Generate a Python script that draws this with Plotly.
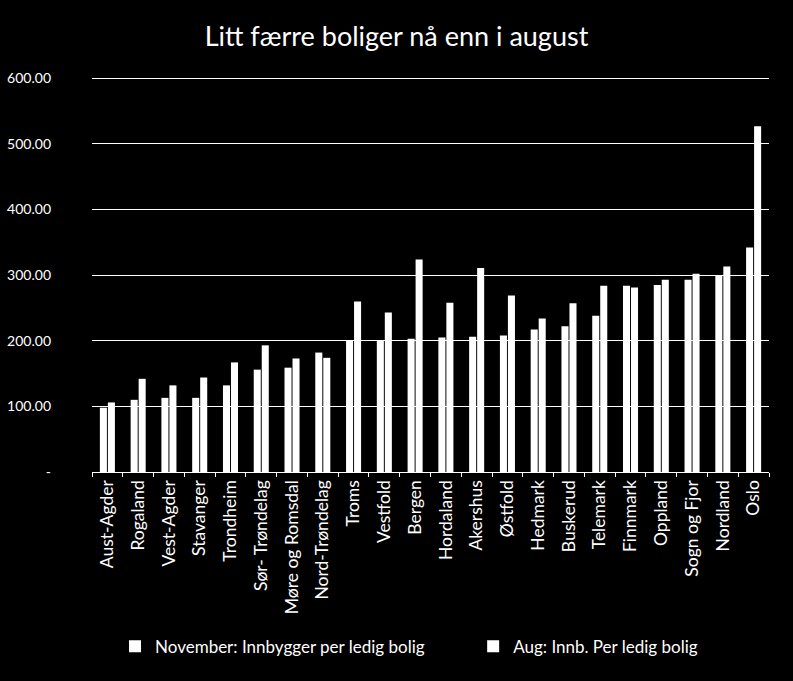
import plotly.graph_objects as go

categories = ["Aust-Agder", "Rogaland", "Vest-Agder", "Stavanger", "Trondheim",
              "Sør- Trøndelag", "Møre og Romsdal", "Nord-Trøndelag", "Troms", "Vestfold",
              "Bergen", "Hordaland", "Akershus", "Østfold", "Hedmark", "Buskerud",
              "Telemark", "Finnmark", "Oppland", "Sogn og Fjor", "Nordland", "Oslo"]
november = [98, 110, 113, 113, 132, 156, 159, 182, 201, 201, 203, 205, 206, 208,
            217, 222, 238, 284, 285, 293, 300, 342]
august = [106, 142, 132, 144, 167, 193, 173, 174, 260, 243, 324, 258, 311, 269,
          234, 257, 284, 281, 293, 302, 313, 527]
ytick_vals = [0, 100, 200, 300, 400, 500, 600]
ytick_text = ["-", "100.00", "200.00", "300.00", "400.00", "500.00", "600.00"]
series_names = ["November: Innbygger per ledig bolig", "Aug: Innb. Per ledig bolig"]

FONT = "Lato, 'Open Sans', sans-serif"
PAD = "\u00a0" * 10

fig = go.Figure()
fig.add_trace(go.Bar(x=categories, y=november, name=series_names[0] + PAD,
                     marker=dict(color="white", line=dict(width=0))))
fig.add_trace(go.Bar(x=categories, y=august, name=series_names[1],
                     marker=dict(color="white", line=dict(width=0))))

fig.update_layout(
    width=793, height=681,
    paper_bgcolor="black", plot_bgcolor="black",
    margin=dict(l=92, r=24, t=75, b=209),
    barmode="group", bargap=0.48, bargroupgap=0.12,
    font=dict(family=FONT, color="white"),
    title=dict(text="Litt færre boliger nå enn i august", x=0.5, xanchor="center",
               y=1 - 37 / 681, yanchor="middle", yref="container",
               font=dict(size=27, family=FONT, color="white")),
    legend=dict(orientation="h", x=0.034, xanchor="left", y=-0.44, yanchor="middle",
                font=dict(size=17, color="white"), bgcolor="rgba(0,0,0,0)",
                itemsizing="constant"),
    showlegend=True,
)
fig.update_yaxes(range=[0, 605], tickvals=ytick_vals, ticktext=ytick_text,
                 showgrid=True, gridcolor="white", gridwidth=1.3, zeroline=False,
                 showline=False, ticks="", ticklabelstandoff=40, automargin=False,
                 tickfont=dict(size=14, color="white", family=FONT))
fig.update_xaxes(tickangle=-90, showline=True, linecolor="white", linewidth=1.3,
                 ticks="outside", tickson="boundaries", ticklen=4, tickcolor="white",
                 automargin=False,
                 tickfont=dict(size=17.5, color="white", family=FONT), showgrid=False)

fig.write_html("out.html")
